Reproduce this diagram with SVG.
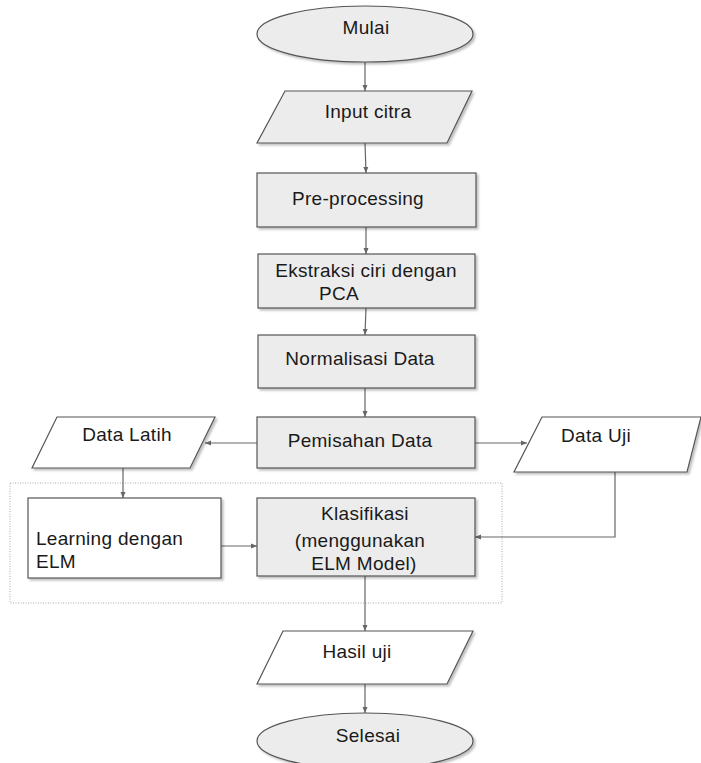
<svg xmlns="http://www.w3.org/2000/svg" width="701" height="763" viewBox="0 0 701 763">
<style>
.g{fill:#ececec;stroke:#555;stroke-width:1.2}
.w{fill:#fff;stroke:#555;stroke-width:1.2}
.t{font-family:"Liberation Sans",Arial,sans-serif;font-size:19px;letter-spacing:0.3px;fill:#1a1a1a}
.m{text-anchor:middle}
.c{fill:none;stroke:#666;stroke-width:1.2}
</style>
<defs>
<filter id="sh" x="-5%" y="-5%" width="115%" height="125%">
<feDropShadow dx="2" dy="2" stdDeviation="1" flood-color="#000" flood-opacity="0.25"/>
</filter>
<marker id="a" viewBox="0 0 6 6" refX="6" refY="3" markerWidth="6" markerHeight="6" orient="auto" markerUnits="userSpaceOnUse">
<path d="M0,0.5 L6,3 L0,5.5 z" fill="#666"/>
</marker>
</defs>
<rect x="10" y="483" width="492" height="120" fill="none" stroke="#aaa" stroke-width="1" stroke-dasharray="1,1.5"/>
<g id="connectors">
<line class="c" x1="365" y1="62" x2="365" y2="91" marker-end="url(#a)"/>
<line class="c" x1="365" y1="143" x2="366" y2="173" marker-end="url(#a)"/>
<line class="c" x1="366" y1="227" x2="366" y2="254" marker-end="url(#a)"/>
<line class="c" x1="366" y1="308" x2="365" y2="335" marker-end="url(#a)"/>
<line class="c" x1="365" y1="388" x2="365" y2="417" marker-end="url(#a)"/>
<line class="c" x1="257" y1="443" x2="205" y2="443" marker-end="url(#a)"/>
<line class="c" x1="475" y1="443" x2="527" y2="443" marker-end="url(#a)"/>
<line class="c" x1="123" y1="468" x2="123" y2="498" marker-end="url(#a)"/>
<line class="c" x1="221" y1="546" x2="257" y2="546" marker-end="url(#a)"/>
<polyline class="c" points="615,472 615,537 475,537" marker-end="url(#a)"/>
<line class="c" x1="365" y1="576" x2="365" y2="631" marker-end="url(#a)"/>
<line class="c" x1="365" y1="684" x2="365" y2="713" marker-end="url(#a)"/>
</g>
<g id="mulai">
<ellipse class="g" cx="365" cy="34" rx="108" ry="28" filter="url(#sh)"/>
<text class="t m" x="366" y="34">Mulai</text>
</g>
<g id="input-citra">
<polygon class="g" points="285,91 472,91 447,143 257,143" filter="url(#sh)"/>
<text class="t m" x="368" y="118">Input citra</text>
</g>
<g id="pre-processing">
<rect class="g" x="257" y="173" width="219" height="54" filter="url(#sh)"/>
<text class="t m" x="358" y="205">Pre-processing</text>
</g>
<g id="ekstraksi">
<rect class="g" x="258" y="254" width="217" height="54" filter="url(#sh)"/>
<text class="t m" x="366" y="277">Ekstraksi ciri dengan</text>
<text class="t" x="319" y="300">PCA</text>
</g>
<g id="normalisasi">
<rect class="g" x="258" y="335" width="217" height="53" filter="url(#sh)"/>
<text class="t m" x="360" y="365">Normalisasi Data</text>
</g>
<g id="pemisahan">
<rect class="g" x="257" y="417" width="218" height="51" filter="url(#sh)"/>
<text class="t m" x="360" y="447">Pemisahan Data</text>
</g>
<g id="data-latih">
<polygon class="w" points="57,417 215,417 190,468 32,468" filter="url(#sh)"/>
<text class="t m" x="127" y="441">Data Latih</text>
</g>
<g id="data-uji">
<polygon class="w" points="542,417 701,417 687,472 514,472" filter="url(#sh)"/>
<text class="t m" x="596" y="442">Data Uji</text>
</g>
<g id="learning">
<rect class="w" x="28" y="498" width="193" height="80" filter="url(#sh)"/>
<text class="t" x="36" y="545">Learning dengan</text>
<text class="t" x="36" y="568">ELM</text>
</g>
<g id="klasifikasi">
<rect class="g" x="257" y="498" width="218" height="78" filter="url(#sh)"/>
<text class="t m" x="365" y="520">Klasifikasi</text>
<text class="t m" x="360" y="547">(menggunakan</text>
<text class="t m" x="364" y="570">ELM Model)</text>
</g>
<g id="hasil-uji">
<polygon class="w" points="283,631 473,631 447,684 257,684" filter="url(#sh)"/>
<text class="t m" x="357" y="658">Hasil uji</text>
</g>
<g id="selesai">
<ellipse class="g" cx="365" cy="741" rx="108" ry="28" filter="url(#sh)"/>
<text class="t m" x="368" y="742">Selesai</text>
</g>
</svg>
